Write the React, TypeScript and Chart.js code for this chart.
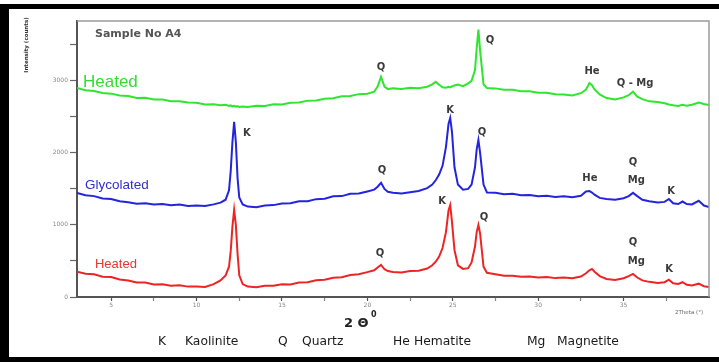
import React, { useEffect, useRef } from 'react';
import { Chart, registerables } from 'chart.js';

Chart.register(...registerables);

// 2-theta positions (degrees)
const twoTheta = [
  3.0, 3.5, 4.0, 4.5, 5.0, 5.5, 6.0, 6.5, 7.0, 7.5, 8.0, 8.5, 9.0, 9.5, 10.0, 10.5, 11.0,
  11.4, 11.7, 11.9, 12.0, 12.1, 12.2, 12.3, 12.4, 12.5, 12.7,
  13.0, 13.5, 14.0, 14.5, 15.0, 15.5, 16.0, 16.5, 17.0, 17.5, 18.0, 18.5, 19.0, 19.5, 20.0,
  20.4, 20.6, 20.8, 21.0, 21.2, 21.5,
  22.0, 22.5, 23.0, 23.5,
  23.8, 24.0, 24.2, 24.4, 24.6, 24.75, 24.85, 24.95, 25.1, 25.3, 25.6, 25.9,
  26.1, 26.3, 26.4, 26.5, 26.6, 26.8, 27.0,
  27.5, 28.0, 28.5, 29.0, 29.5, 30.0, 30.5, 31.0, 31.5, 32.0, 32.5,
  32.8, 33.0, 33.15, 33.3, 33.6, 34.0, 34.5, 35.0, 35.3, 35.55, 35.8, 36.1, 36.5, 37.0,
  37.4, 37.65, 37.9, 38.2, 38.45, 38.7, 39.0, 39.4, 39.7, 40.0,
];

// Heated (top trace, green), counts
const heatedTop = [
  2900, 2868, 2858, 2830, 2822, 2795, 2788, 2762, 2765, 2740, 2742, 2718, 2715, 2698, 2695, 2672, 2675,
  2660, 2668, 2650, 2658, 2645, 2652, 2640, 2648, 2636, 2645,
  2638, 2655, 2652, 2675, 2672, 2695, 2700, 2725, 2728, 2752, 2758, 2785, 2790, 2815, 2822,
  2850, 2920, 3055, 2920, 2885, 2895,
  2888, 2905, 2898, 2918,
  2950, 2985, 2945, 2910, 2905, 2918, 2908, 2922, 2935, 2948, 2925, 2965,
  3000, 3150, 3450, 3710, 3420, 2950, 2900,
  2895, 2875, 2875, 2855, 2855, 2835, 2835, 2815, 2810, 2795, 2828,
  2880, 2970, 2940, 2880, 2810, 2760, 2740, 2770, 2800, 2850, 2780, 2745, 2715, 2705,
  2688, 2672, 2660, 2652, 2668, 2655, 2668, 2700, 2678, 2665,
];

// Glycolated (middle trace, blue), counts
const glycolated = [
  1445, 1412, 1400, 1368, 1360, 1328, 1315, 1295, 1300, 1283, 1290, 1272, 1282, 1262, 1270, 1262, 1285,
  1310, 1350, 1480, 1750, 2150, 2430, 2150, 1650, 1380, 1285,
  1255, 1245, 1270, 1275, 1296, 1300, 1328, 1330, 1358, 1365, 1398, 1400, 1432, 1435, 1465,
  1490, 1530, 1585, 1500, 1460, 1448,
  1435, 1455, 1470, 1510,
  1560, 1620, 1700, 1820, 2080, 2400, 2485, 2300, 1800, 1560, 1490, 1500,
  1560, 1800, 2050, 2180, 2000, 1560, 1450,
  1445, 1425, 1432, 1412, 1415, 1398, 1405, 1388, 1398, 1385, 1405,
  1465, 1470, 1450, 1420, 1375, 1360, 1350, 1370, 1400, 1445, 1400, 1350, 1330, 1310,
  1320, 1360, 1300, 1290, 1325, 1290, 1285, 1335, 1270, 1250,
];

// Heated (bottom trace, red), counts
const heatedBottom = [
  350, 322, 315, 280, 276, 244, 230, 200, 200, 174, 176, 156, 162, 144, 146, 140, 178,
  230, 300, 420, 640, 980, 1210, 1000, 600, 300, 180,
  145, 135, 155, 155, 176, 175, 200, 205, 232, 240, 266, 275, 306, 315, 345,
  370, 410, 445, 385, 360, 348,
  340, 360, 365, 395,
  440, 490, 560, 680, 900, 1200, 1275, 1050, 650, 440, 390, 400,
  480, 700, 900, 1000, 880, 420, 335,
  315, 295, 295, 280, 286, 272, 278, 262, 270, 260, 284,
  330, 370, 390, 350, 290, 250, 235, 260, 290, 320, 270, 230, 210, 195,
  205, 240, 190, 180, 205, 170, 160, 185, 150, 140,
];

const xTickValues = [5, 7.5, 10, 12.5, 15, 17.5, 20, 22.5, 25, 27.5, 30, 32.5, 35, 37.5];
const yTickValues = [0, 500, 1000, 1500, 2000, 2500, 3000, 3500];

type Note = { x: number; y: number; text: string };

// peak identification labels (2θ, counts)
const greenNotes: Note[] = [
  { x: 20.8, y: 3192, text: 'Q' },
  { x: 27.18, y: 3567, text: 'Q' },
  { x: 33.15, y: 3137, text: 'He' },
  { x: 35.67, y: 2970, text: 'Q - Mg' },
];
const blueNotes: Note[] = [
  { x: 12.95, y: 2276, text: 'K' },
  { x: 20.86, y: 1763, text: 'Q' },
  { x: 24.84, y: 2596, text: 'K' },
  { x: 26.71, y: 2290, text: 'Q' },
  { x: 33.03, y: 1650, text: 'He' },
  { x: 35.55, y: 1874, text: 'Q' },
  { x: 35.75, y: 1624, text: 'Mg' },
  { x: 37.78, y: 1471, text: 'K' },
];
const redNotes: Note[] = [
  { x: 20.74, y: 611, text: 'Q' },
  { x: 24.37, y: 1332, text: 'K' },
  { x: 26.83, y: 1110, text: 'Q' },
  { x: 35.55, y: 763, text: 'Q' },
  { x: 35.75, y: 500, text: 'Mg' },
  { x: 37.66, y: 389, text: 'K' },
];

const seriesNames = ['Heated', 'Glycolated', 'Heated'];
const seriesColors = ['#2ee62e', '#2424dc', '#ee2424'];
const seriesLabelColors = ['#33dd33', '#3030cc', '#ee3333'];
// anchor (2θ, counts) of each trace's name
const seriesNameAnchors = [
  { x: 3.35, y: 2984 },
  { x: 3.47, y: 1554 },
  { x: 4.05, y: 458 },
];
const seriesNameSizes = [17, 13.5, 13];

const keyItems = [
  { code: 'K', name: 'Kaolinite', codeX: 158, nameX: 185 },
  { code: 'Q', name: 'Quartz', codeX: 278, nameX: 302 },
  { code: 'He', name: 'Hematite', codeX: 393, nameX: 414 },
  { code: 'Mg', name: 'Magnetite', codeX: 527, nameX: 557 },
];

export default function App() {
  const ref = useRef<HTMLCanvasElement>(null);

  useEffect(() => {
    document.body.style.margin = '0';
    const canvas = ref.current;
    if (!canvas) return;

    const pts = (ys: number[]) => twoTheta.map((x, i) => ({ x, y: ys[i] }));

    const overlay = {
      id: 'overlay',
      beforeDraw(chart: any) {
        const ctx = chart.ctx as CanvasRenderingContext2D;
        ctx.save();
        ctx.fillStyle = '#ffffff';
        ctx.fillRect(0, 0, chart.width, chart.height);
        ctx.fillStyle = '#000000';
        ctx.fillRect(0, 4, chart.width, 5);
        ctx.fillRect(0, 4, 9, chart.height - 4);
        ctx.fillRect(0, 357, chart.width, 5);
        ctx.restore();
      },
      afterDraw(chart: any) {
        const ctx = chart.ctx as CanvasRenderingContext2D;
        const area = chart.chartArea;
        const xs = chart.scales.x;
        const ys = chart.scales.y;
        ctx.save();
        // top & right frame
        ctx.strokeStyle = '#9a9a9a';
        ctx.lineWidth = 1.5;
        ctx.beginPath();
        ctx.moveTo(area.left, area.top);
        ctx.lineTo(area.right, area.top);
        ctx.lineTo(area.right, area.bottom);
        ctx.stroke();

        // title
        ctx.fillStyle = '#555555';
        ctx.font = 'bold 11px "DejaVu Sans"';
        ctx.textAlign = 'left';
        ctx.textBaseline = 'middle';
        ctx.fillText('Sample No A4', 95, 34);

        // series names
        seriesNames.forEach((name, i) => {
          const a = seriesNameAnchors[i];
          ctx.fillStyle = seriesLabelColors[i];
          ctx.font = `${seriesNameSizes[i]}px "Liberation Sans"`;
          ctx.textAlign = 'left';
          ctx.textBaseline = 'middle';
          ctx.fillText(name, xs.getPixelForValue(a.x), ys.getPixelForValue(a.y));
        });

        // peak labels
        ctx.fillStyle = '#3a3a3a';
        ctx.font = 'bold 10px "DejaVu Sans"';
        ctx.textAlign = 'center';
        ctx.textBaseline = 'middle';
        [...greenNotes, ...blueNotes, ...redNotes].forEach((n) => {
          ctx.fillText(n.text, xs.getPixelForValue(n.x), ys.getPixelForValue(n.y));
        });

        // axis titles
        ctx.fillStyle = '#333333';
        ctx.font = 'bold 5.5px "DejaVu Sans"';
        ctx.save();
        ctx.translate(27, 45);
        ctx.rotate(-Math.PI / 2);
        ctx.textAlign = 'center';
        ctx.textBaseline = 'middle';
        ctx.fillText('Intensity (counts)', 0, 0);
        ctx.restore();

        ctx.fillStyle = '#666666';
        ctx.font = '5.5px "DejaVu Sans"';
        ctx.textAlign = 'left';
        ctx.fillText('2Theta (°)', 675, 313);

        // 2θ label
        ctx.fillStyle = '#222222';
        ctx.font = 'bold 13px "DejaVu Sans"';
        ctx.textAlign = 'left';
        ctx.textBaseline = 'alphabetic';
        ctx.fillText('2 Θ', 344, 327);
        ctx.font = 'bold 8px "DejaVu Sans"';
        ctx.fillText('0', 371, 317);

        // key
        ctx.fillStyle = '#1a1a1a';
        ctx.font = '12.3px "DejaVu Sans"';
        ctx.textBaseline = 'middle';
        keyItems.forEach((k) => {
          ctx.fillText(k.code, k.codeX, 342);
          ctx.fillText(k.name, k.nameX, 342);
        });
        ctx.restore();
      },
    };

    const chart = new Chart(canvas, {
      type: 'line',
      data: {
        datasets: [
          { label: seriesNames[0], data: pts(heatedTop), borderColor: seriesColors[0], borderWidth: 2, pointRadius: 0, tension: 0, fill: false },
          { label: seriesNames[1], data: pts(glycolated), borderColor: seriesColors[1], borderWidth: 2, pointRadius: 0, tension: 0, fill: false },
          { label: seriesNames[2], data: pts(heatedBottom), borderColor: seriesColors[2], borderWidth: 2, pointRadius: 0, tension: 0, fill: false },
        ],
      },
      options: {
        responsive: false,
        animation: false,
        events: [],
        layout: { padding: { left: 0, right: 10, top: 21, bottom: 0 } },
        plugins: {
          legend: { display: false },
          tooltip: { enabled: false },
          title: { display: false },
        },
        scales: {
          x: {
            type: 'linear',
            min: 3,
            max: 40,
            afterBuildTicks: (s: any) => {
              s.ticks = xTickValues.map((value) => ({ value }));
            },
            afterFit: (s: any) => {
              s.height = 65;
            },
            grid: {
              drawOnChartArea: false,
              tickLength: 4,
              tickWidth: 1.2,
              tickColor: (c: any) => (c.tick && c.tick.value % 5 === 0 ? '#555' : '#888'),
            },
            border: { color: '#555', width: 2 },
            ticks: {
              font: { family: 'DejaVu Sans', size: 6 },
              color: '#888',
              padding: 1,
              maxRotation: 0,
              autoSkip: false,
              callback: (v: any) => (Number(v) % 5 === 0 ? String(v) : ''),
            },
          },
          y: {
            type: 'linear',
            min: 0,
            max: 3830,
            afterBuildTicks: (s: any) => {
              s.ticks = yTickValues.map((value) => ({ value }));
            },
            afterFit: (s: any) => {
              s.width = 77;
            },
            grid: {
              drawOnChartArea: false,
              tickLength: 7,
              tickWidth: 1.2,
              tickColor: '#666',
            },
            border: { color: '#555', width: 2 },
            ticks: {
              font: { family: 'DejaVu Sans', size: 6 },
              color: '#888',
              padding: 2,
              autoSkip: false,
              callback: (v: any) => (Number(v) % 1000 === 0 ? String(v) : ''),
            },
          },
        },
      },
      plugins: [overlay],
    } as any);

    return () => chart.destroy();
  }, []);

  return (
    <canvas
      ref={ref}
      width={719}
      height={362}
      style={{ display: 'block', width: '719px', height: '362px' }}
    />
  );
}
